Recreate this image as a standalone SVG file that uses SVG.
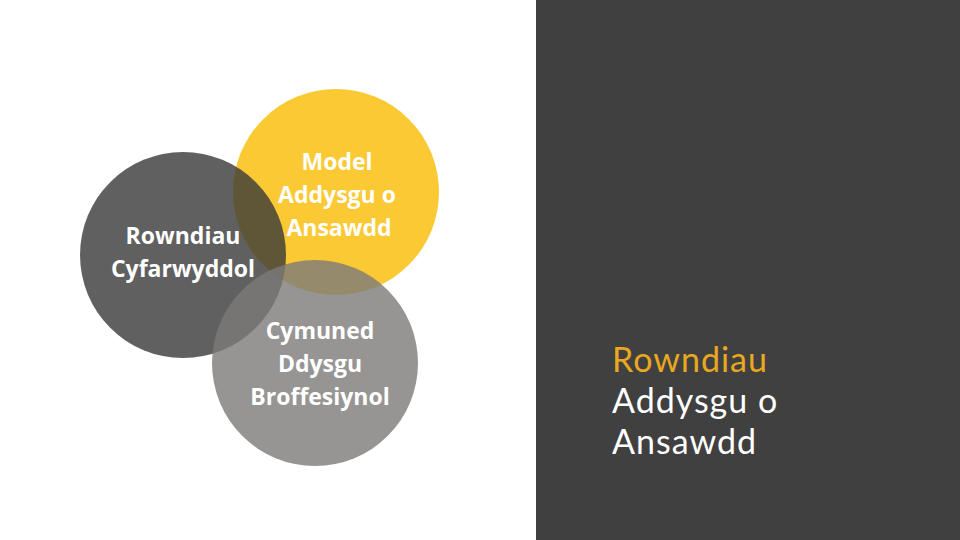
<svg xmlns="http://www.w3.org/2000/svg" width="960" height="540" viewBox="0 0 960 540">
<style>
.ct{font-family:"Open Sans","Liberation Sans",sans-serif;font-weight:bold;font-size:23px;fill:#ffffff;text-anchor:middle}
.rt{font-family:Lato,"Open Sans",sans-serif;font-size:34px;letter-spacing:1px;fill:#ffffff}
</style>
<rect x="0" y="0" width="960" height="540" fill="#ffffff"/>
<rect x="536" y="0" width="424" height="540" fill="#404040"/>
<g id="node-model">
<circle cx="336" cy="192" r="103" fill="#FBC933"/>
<text class="ct" x="337" y="170">Model</text>
<text class="ct" x="337" y="203">Addysgu o</text>
<text class="ct" x="339" y="236">Ansawdd</text>
</g>
<g id="node-rowndiau">
<circle cx="183" cy="255" r="103" fill="#383838" fill-opacity="0.8"/>
<text class="ct" x="183" y="244">Rowndiau</text>
<text class="ct" x="183" y="277">Cyfarwyddol</text>
</g>
<g id="node-cymuned">
<circle cx="315" cy="363" r="103" fill="#7c7a79" fill-opacity="0.8"/>
<text class="ct" x="320" y="339">Cymuned</text>
<text class="ct" x="320" y="372">Ddysgu</text>
<text class="ct" x="320" y="405">Broffesiynol</text>
</g>
<g id="title">
<text class="rt" x="612" y="372" style="fill:#E8A820">Rowndiau</text>
<text class="rt" x="612" y="413">Addysgu o</text>
<text class="rt" x="612" y="454">Ansawdd</text>
</g>
<g id="connectors"></g>
</svg>
